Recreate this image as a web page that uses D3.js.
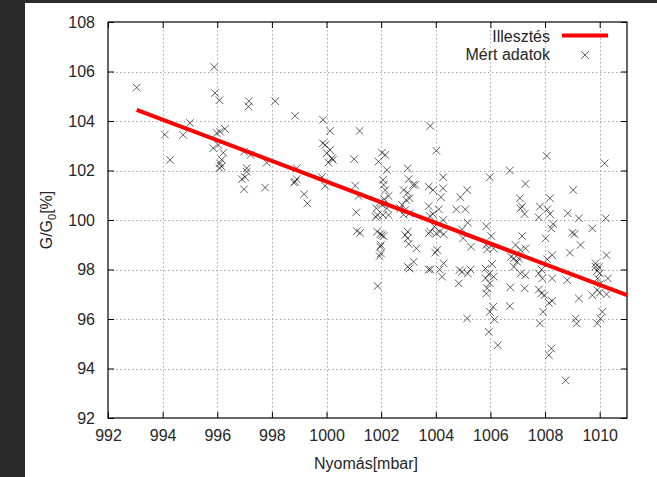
<!DOCTYPE html>
<html><head><meta charset="utf-8">
<script src="https://cdn.jsdelivr.net/npm/d3@7/dist/d3.min.js"></script>
<style>
html,body{margin:0;padding:0;background:#2b2b2b;}
svg{display:block;}
text{font-family:"Liberation Sans",Arial,sans-serif;fill:#262626;}
</style></head>
<body>
<svg id="chart" width="657" height="477"></svg>
<script>
// pressure [mbar]
const pressure = [
993.05,994.08,994.75,995.0,994.27,995.89,995.92,996.08,995.98,996.1,996.28,995.85,996.04,996.22,996.1,996.16,996.08,996.16,
997.16,997.14,998.12,998.85,996.98,997.22,997.81,997.08,997.08,996.9,997.02,996.98,997.75,998.85,998.91,998.91,998.81,999.18,999.3,
999.87,999.87,999.95,1000.13,1001.21,1000.01,1000.13,1000.23,1000.07,1000.2,1001.01,999.83,999.95,1001.05,1001.17,1001.09,1001.11,1001.23,
1002.03,1002.15,1001.9,1002.21,1002.07,1002.09,1002.15,1002.27,1002.11,1001.94,1001.82,1002.03,1002.21,1001.87,1002.07,1002.27,1001.8,
1001.85,1001.97,1002.03,1002.09,1001.99,1001.97,1001.99,1001.94,1001.87,
1002.97,1003.01,1003.17,1003.25,1002.82,1002.97,1003.04,1002.92,1002.76,1002.7,1002.88,1003.04,1002.82,1002.97,1002.88,1002.97,1003.01,
1003.29,1002.97,1003.04,1003.19,1003.74,1003.74,1003.74,1003.74,
1003.8,1004.02,1004.27,1003.9,1004.27,1004.19,1004.11,1003.9,1003.78,1004.27,1003.95,1003.8,1004.02,1004.29,1004.15,1004.05,1003.98,
1004.29,1003.8,1004.14,1004.23,1004.9,1005.15,1004.75,1005.08,1005.17,1004.96,1005.0,1005.29,1004.87,1004.96,1005.27,1005.17,1004.84,1005.15,
1005.98,1006.71,1007.28,1007.08,1007.16,1007.25,1007.1,1005.85,1006.03,1005.85,1005.88,1006.12,1006.06,1005.82,1005.94,1006.12,1005.82,
1005.98,1005.88,1005.85,1006.1,1005.98,1006.15,1005.94,1006.27,1006.73,1006.71,1006.76,1006.86,1006.98,1007.25,1007.1,1007.28,1007.16,
1006.92,1007.1,1007.28,1007.04,1006.86,
1008.06,1010.18,1009.03,1008.18,1007.81,1008.08,1008.18,1007.77,1008.83,1009.24,1010.22,1008.3,1008.23,1009.73,1009.0,1009.08,1009.3,
1008.91,1010.25,1008.02,1008.26,1008.08,1007.87,1007.77,1007.9,1007.77,1007.98,1008.26,1008.81,1008.26,1008.14,1007.93,1007.81,1008.23,
1008.14,1008.75,1009.24,1009.12,1009.16,1009.85,1009.91,1010.0,1009.93,1010.03,1010.3,1009.91,1010.0,1009.73,1010.25,1010.1,1010.03,
1009.91,1007.86,1009.85,1009.97
];
// G/G0 [%]
const ratio = [
105.35,103.45,103.44,103.92,102.43,106.18,105.13,104.84,103.51,103.57,103.68,102.9,103.03,102.72,102.29,102.16,102.1,102.44,
104.8,104.58,104.8,104.21,102.76,102.63,102.32,102.09,101.95,101.65,101.73,101.24,101.31,101.55,101.65,102.09,101.51,101.04,100.67,
104.05,103.1,103.03,103.6,103.6,102.7,102.83,102.43,102.32,102.5,102.46,101.73,101.38,101.39,100.97,100.31,99.55,99.48,
102.72,102.63,102.36,102.02,101.62,101.42,101.21,100.97,100.84,100.7,100.47,100.61,100.47,100.2,100.2,100.2,100.13,
99.53,99.43,99.39,99.35,98.99,98.92,98.65,98.54,97.33,
102.09,101.65,101.42,101.42,101.21,101.1,100.88,100.81,100.61,100.47,100.4,100.27,100.22,99.53,99.39,99.26,99.03,
98.85,98.11,98.04,98.31,101.35,100.56,99.46,98.0,
103.8,102.8,101.73,101.21,101.28,100.92,100.43,100.24,100.16,100.0,99.73,99.53,99.46,99.43,99.53,98.79,98.68,
98.25,98.0,98.0,97.71,100.92,101.21,100.43,100.43,99.89,99.62,99.26,98.92,97.98,97.91,98.0,97.84,97.44,96.02,
101.73,102.0,101.46,100.88,100.54,100.24,100.47,99.75,99.35,98.99,98.81,98.85,98.22,98.04,97.81,97.71,97.65,
97.44,97.24,97.03,96.49,96.29,95.98,95.48,94.94,97.28,96.52,98.51,98.11,98.31,97.24,97.84,97.77,99.35,
98.99,98.79,98.85,98.45,98.45,
102.59,102.29,101.21,100.88,100.54,100.43,100.24,100.11,100.27,100.07,100.07,99.84,99.66,99.66,99.48,99.43,98.99,
98.68,98.58,99.26,98.58,98.41,98.0,97.84,97.64,97.19,96.96,97.64,97.57,96.73,96.65,96.29,95.82,94.81,
94.54,93.52,96.83,96.02,95.82,98.11,97.95,97.84,97.64,97.44,97.64,97.17,97.06,96.96,97.0,96.29,96.02,
95.82,97.03,98.25,98.1
];
// fitted line (Illesztés)
const fitP = [993.05, 1011];
const fitG = [104.45, 96.96];
const xTicks = [992,994,996,998,1000,1002,1004,1006,1008,1010];
const yTicks = [92,94,96,98,100,102,104,106,108];
const xTitle = "Nyomás[mbar]";
const legendFit = "Illesztés";
const legendData = "Mért adatok";

const svg = d3.select("#chart");
// white canvas
svg.append("rect").attr("x",25).attr("y",3).attr("width",632).attr("height",474).attr("fill","#fff");

const L=108, R=627, T=22, B=418;
const x = d3.scaleLinear().domain([992,1011]).range([L,R]);
const y = d3.scaleLinear().domain([92,108]).range([B,T]);

// grid
const grid = svg.append("g").attr("stroke","#a8a8a8").attr("stroke-width",1).attr("stroke-dasharray","1.5,2.5");
grid.selectAll(".gx").data(xTicks.filter(v=>v>992)).join("line")
  .attr("x1",d=>Math.round(x(d))+0.5).attr("x2",d=>Math.round(x(d))+0.5).attr("y1",T).attr("y2",B);
grid.selectAll(".gy").data(yTicks.filter(v=>v>92 && v<108)).join("line")
  .attr("y1",d=>Math.round(y(d))+0.5).attr("y2",d=>Math.round(y(d))+0.5).attr("x1",L).attr("x2",R);

// axes
const fmt = d3.format("d");
const ax = svg.append("g").attr("transform",`translate(0,${B})`)
  .call(d3.axisBottom(x).tickValues(xTicks).tickFormat(fmt).tickSizeInner(-6).tickSizeOuter(0).tickPadding(12));
const ay = svg.append("g").attr("transform",`translate(${L},0)`)
  .call(d3.axisLeft(y).tickValues(yTicks).tickFormat(fmt).tickSizeInner(-6).tickSizeOuter(0).tickPadding(13));
const axT = svg.append("g").attr("transform",`translate(0,${T})`)
  .call(d3.axisTop(x).tickValues(xTicks).tickFormat("").tickSizeInner(-6).tickSizeOuter(0));
const ayR = svg.append("g").attr("transform",`translate(${R},0)`)
  .call(d3.axisRight(y).tickValues(yTicks).tickFormat("").tickSizeInner(-6).tickSizeOuter(0));
[ax,ay,axT,ayR].forEach(g=>{
  g.select(".domain").remove();
  g.selectAll("line").attr("stroke","#000");
  g.selectAll("text").attr("font-size",16).attr("fill","#262626").attr("font-family","Liberation Sans, Arial, sans-serif");
});
// frame
svg.append("rect").attr("x",L).attr("y",T).attr("width",R-L).attr("height",B-T)
  .attr("fill","none").attr("stroke","#000").attr("stroke-width",1.2);

// data markers
const pts = pressure.map((p,i)=>[p,ratio[i]]);
const s = 3.8;
svg.append("g").attr("stroke","#000").attr("stroke-opacity",0.62).attr("stroke-width",1).attr("fill","none")
  .selectAll("path").data(pts).join("path")
  .attr("d",d=>{const cx=x(d[0]), cy=y(d[1]);
    return `M${cx-s},${cy-s}L${cx+s},${cy+s}M${cx-s},${cy+s}L${cx+s},${cy-s}`;});

// fit line
const line = d3.line().x(d=>x(d[0])).y(d=>y(d[1]));
svg.append("path").datum(fitP.map((p,i)=>[p,fitG[i]])).attr("d",line)
  .attr("stroke","#ff0000").attr("stroke-width",4).attr("fill","none");

// legend
svg.append("text").attr("x",550).attr("y",41.5).attr("text-anchor","end").attr("font-size",16).text(legendFit);
svg.append("line").attr("x1",562).attr("x2",608).attr("y1",35.5).attr("y2",35.5).attr("stroke","#ff0000").attr("stroke-width",4);
svg.append("text").attr("x",550).attr("y",60).attr("text-anchor","end").attr("font-size",16).text(legendData);
svg.append("path").attr("d",`M${585-s},${55-s}L${585+s},${55+s}M${585-s},${55+s}L${585+s},${55-s}`)
  .attr("stroke","#000").attr("stroke-opacity",0.62).attr("stroke-width",1);

// axis titles
svg.append("text").attr("x",366).attr("y",469).attr("text-anchor","middle").attr("font-size",16).text(xTitle);
const yt = svg.append("text").attr("transform","translate(52,220) rotate(-90)").attr("text-anchor","middle").attr("font-size",16);
yt.append("tspan").text("G/G");
yt.append("tspan").attr("font-size",11).attr("dy",4).text("0");
yt.append("tspan").attr("dy",-4).text("[%]");
</script>
</body></html>
